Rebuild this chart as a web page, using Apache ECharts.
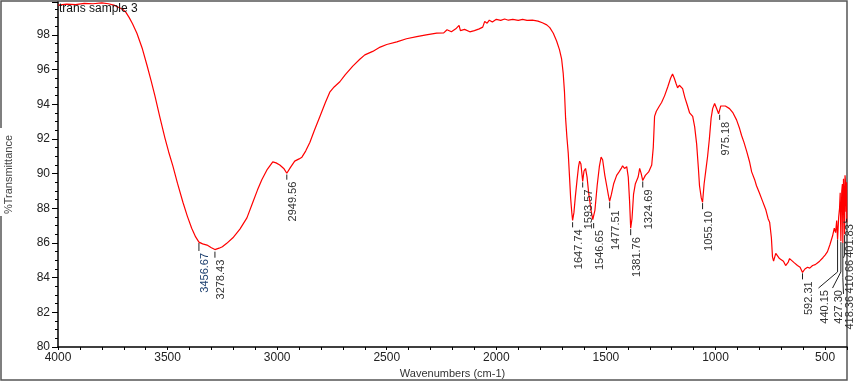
<!DOCTYPE html>
<html>
<head>
<meta charset="utf-8">
<script src="https://cdn.jsdelivr.net/npm/echarts@6/dist/echarts.min.js"></script>
<style>
  html, body { margin: 0; padding: 0; background: #fff; }
  #main { width: 858px; height: 382px; }
</style>
</head>
<body>
<div id="main"></div>
<script>
const wavenumber = [
  4000, 3960, 3920, 3880, 3840, 3800, 3770, 3745, 3725, 3705, 3690, 3675, 3660, 3640, 3615,
  3594, 3575, 3558, 3535, 3512, 3495, 3476, 3455, 3430, 3410, 3390, 3372, 3357, 3340, 3320,
  3300, 3284, 3265, 3250, 3230, 3202, 3170, 3138, 3111, 3090, 3070, 3045, 3020, 3005, 2988,
  2970, 2956, 2940, 2920, 2900, 2887, 2870, 2851, 2830, 2805, 2780, 2760, 2740, 2714, 2690,
  2655, 2623, 2600, 2564, 2530, 2500, 2454, 2410, 2363, 2320, 2272, 2240, 2225, 2205, 2185,
  2170, 2164, 2145, 2121, 2100, 2078, 2062, 2053, 2042, 2032, 2018, 2000, 1980, 1962, 1945,
  1925, 1900, 1880, 1860, 1835, 1810, 1790, 1770, 1756, 1740, 1725, 1712, 1702, 1695, 1689,
  1684, 1678, 1672, 1666, 1661, 1656, 1652, 1646, 1640, 1632, 1625, 1620, 1614, 1606, 1600,
  1593, 1586, 1578, 1568, 1560, 1556, 1550, 1540, 1530, 1522, 1515, 1505, 1495, 1488, 1483,
  1475, 1465, 1451, 1440, 1430, 1424, 1415, 1405, 1398, 1392, 1387, 1381, 1374, 1366, 1360,
  1353, 1346, 1339, 1332, 1320, 1305, 1291, 1284, 1278, 1270, 1256, 1246, 1232, 1218, 1205,
  1196, 1188, 1180, 1173, 1165, 1157, 1150, 1140, 1130, 1118, 1104, 1095, 1086, 1078, 1073,
  1065, 1059, 1052, 1044, 1036, 1028, 1020, 1013, 1004, 996, 990, 986, 981, 976, 968,
  955, 936, 920, 904, 890, 881, 870, 858, 845, 835, 820, 813, 800, 785, 770,
  760, 753, 745, 740, 735, 731, 725, 717, 708, 700, 690, 680, 676, 668, 662,
  655, 640, 626, 614, 603, 592, 580, 570, 557, 545, 535, 525, 510, 500, 489,
  478, 466, 458, 452, 447, 443, 438, 434, 431, 428, 424, 421, 419, 416, 413,
  411, 409, 406, 404, 402, 401
];
const transmittance = [
  99.72, 99.78, 99.75, 99.82, 99.8, 99.85, 99.8, 99.72, 99.6, 99.48, 99.3, 99.0, 98.65, 98.1, 97.2,
  96.25, 95.35, 94.5, 93.25, 92.05, 91.25, 90.45, 89.45, 88.35, 87.55, 86.85, 86.35, 86.05, 85.95, 85.88,
  85.72, 85.62, 85.7, 85.78, 85.98, 86.3, 86.8, 87.45, 88.35, 89.05, 89.65, 90.25, 90.68, 90.62, 90.5,
  90.3, 90.02, 90.35, 90.72, 90.85, 90.95, 91.3, 91.8, 92.5, 93.3, 94.1, 94.7, 95.0, 95.3, 95.7,
  96.2, 96.6, 96.85, 97.05, 97.3, 97.45, 97.6, 97.78, 97.9, 98.0, 98.1, 98.12, 98.3, 98.18, 98.35,
  98.55, 98.25, 98.32, 98.18, 98.25, 98.35, 98.45, 98.78, 98.68, 98.85, 98.74, 98.9, 98.84, 98.92, 98.85,
  98.9, 98.84, 98.9, 98.84, 98.85, 98.8, 98.7, 98.58, 98.42, 98.1, 97.65, 97.15, 96.6, 95.8, 94.7,
  93.2, 92.1, 91.2, 89.8, 88.6, 87.8, 87.3, 87.75, 88.6, 89.6, 90.4, 90.72, 90.55, 89.55, 90.15,
  90.3, 89.8, 88.8, 87.9, 87.35, 87.25, 87.9, 89.3, 90.4, 90.95, 90.8, 89.9, 89.2, 88.7, 88.4,
  88.8, 89.4, 89.9, 90.1, 90.3, 90.45, 90.3, 90.4, 89.8, 88.4, 86.85, 87.4, 88.8, 89.4, 89.5,
  89.8, 90.3, 90.0, 89.6, 89.9, 90.1, 90.5, 91.5, 93.3, 93.6, 93.9, 94.1, 94.5, 95.0, 95.5,
  95.75, 95.5, 95.2, 94.95, 95.1, 95.0, 94.9, 94.4, 94.0, 93.5, 93.3, 92.7, 91.7, 90.3, 89.3,
  88.6, 88.35, 89.4, 90.2, 91.0, 92.0, 93.2, 93.75, 94.05, 94.1, 93.6, 93.45, 93.45, 93.9, 94.0,
  93.9, 93.75, 93.5, 93.1, 92.6, 92.2, 91.8, 91.3, 90.7, 90.1, 89.6, 89.3, 88.9, 88.4, 87.9,
  87.4, 87.2, 86.3, 85.2, 84.95, 85.0, 85.4, 85.45, 85.1, 85.15, 84.95, 84.7, 84.65, 84.9, 85.1,
  85.05, 84.85, 84.7, 84.6, 84.3, 84.5, 84.6, 84.55, 84.7, 84.75, 84.85, 84.95, 85.15, 85.3, 85.5,
  85.9, 86.4, 86.85, 86.6, 87.3, 86.2, 87.5, 88.0, 88.9, 86.1, 89.0, 89.4, 86.0, 89.7, 88.5,
  86.5, 89.9, 89.4, 87.8, 89.5, 87.2
];

// peak annotations: tick from the curve, optional bend, then rotated text
const peakLabels = ['3456.67', '3278.43', '2949.56', '1647.74', '1593.57', '1546.65', '1477.51', '1381.76',
  '1324.69', '1055.10', '975.18', '592.31', '440.15', '427.30', '418.36', '410.66', '401.83'];
const peakWn = [3357, 3284, 2956, 1652, 1606, 1556, 1483, 1387, 1332, 1059, 981, 603, 443, 428, 419, 411, 402];
const peakT = [86.0, 85.5, 89.95, 87.2, 89.5, 87.15, 88.35, 86.8, 89.55, 88.3, 93.4, 84.25, 86.2, 86.05, 86.0, 86.45, 87.4];
const bendT = [85.54, 85.15, 89.65, 86.9, 89.2, 86.85, 88.0, 86.45, 89.2, 87.95, 93.1, 83.9, 84.33, 84.33, 84.0, 85.3, 87.2];
const labelWn = [3357, 3284, 2956, 1652, 1606, 1556, 1483, 1387, 1332, 1059, 981, 603, 530, 466, 416, 416, 416];
const labelT = [85.54, 85.15, 89.65, 86.9, 89.2, 86.85, 88.0, 86.45, 89.2, 87.95, 93.1, 83.9, 83.4, 83.4, 83.06, 85.14, 87.2];

const xLabelValues = [500, 1000, 1500, 2000, 2500, 3000, 3500, 4000];
const yLabelValues = [80, 82, 84, 86, 88, 90, 92, 94, 96, 98];

const font = '"Liberation Sans", Arial, sans-serif';

const chart = echarts.init(document.getElementById('main'));

const borderStyle = { stroke: '#555', lineWidth: 1.5 };

const option = {
  backgroundColor: '#fff',
  animation: false,
  title: {
    text: 'trans sample 3',
    left: 59,
    top: 3,
    padding: 0,
    textStyle: { fontFamily: font, fontSize: 12, fontWeight: 'normal', color: '#111' },
  },
  grid: { left: 58, right: 11, top: 2, bottom: 35, containLabel: false, outerBoundsMode: 'none' },
  xAxis: {
    type: 'value',
    inverse: true,
    min: 400,
    max: 4000,
    interval: 100,
    name: 'Wavenumbers (cm-1)',
    nameLocation: 'middle',
    nameGap: 19,
    nameTextStyle: { fontFamily: font, fontSize: 11, color: '#333' },
    axisLine: { lineStyle: { color: '#000', width: 1.5 } },
    axisTick: { length: 3, lineStyle: { color: '#000' } },
    axisLabel: {
      margin: 5,
      fontFamily: font,
      fontSize: 12,
      color: '#222',
      formatter: (v) => (xLabelValues.includes(v) ? String(v) : ''),
    },
    splitLine: { show: false },
  },
  yAxis: {
    type: 'value',
    min: 80,
    max: 99.9,
    interval: 2,
    name: '%Transmittance',
    nameLocation: 'middle',
    nameGap: 44,
    nameTextStyle: { fontFamily: font, fontSize: 11, color: '#444' },
    axisLine: { lineStyle: { color: '#000', width: 1.5 } },
    axisTick: { length: 6, lineStyle: { color: '#000' } },
    minorTick: { show: true, splitNumber: 4, length: 3, lineStyle: { color: '#000' } },
    axisLabel: {
      margin: 8,
      fontFamily: font,
      fontSize: 12,
      color: '#222',
      formatter: (v) => (yLabelValues.includes(v) ? String(v) : ''),
    },
    splitLine: { show: false },
  },
  // outer frame, left side broken where the axis name sits
  graphic: [
    { type: 'polyline', z: -1, shape: { points: [[1, 128], [1, 1], [847, 1], [847, 380], [1, 380], [1, 216]] }, style: borderStyle },
  ],
  series: [
    {
      type: 'line',
      data: wavenumber.map((w, i) => [w, transmittance[i]]),
      showSymbol: false,
      lineStyle: { color: '#ff0000', width: 1.2 },
      z: 2,
    },
    {
      type: 'custom',
      clip: false,
      silent: true,
      z: 3,
      data: peakLabels.map((t, i) => [peakWn[i], peakT[i], bendT[i], labelWn[i], labelT[i]]),
      encode: { x: 0, y: 1 },
      renderItem: (params, api) => {
        const i = params.dataIndex;
        const a = api.coord([api.value(0), api.value(1)]);
        const b = api.coord([api.value(0), api.value(2)]);
        const c = api.coord([api.value(3), api.value(4)]);
        return {
          type: 'group',
          children: [
            {
              type: 'polyline',
              shape: { points: [a, b, c] },
              style: { stroke: '#222', lineWidth: 1, fill: null },
            },
            {
              type: 'text',
              x: c[0] + 1,
              y: c[1] + 2,
              rotation: Math.PI / 2,
              style: {
                text: peakLabels[i],
                fill: i === 0 ? '#1c3f6e' : '#333',
                font: '11px ' + font,
                align: 'right',
                verticalAlign: 'top',
              },
            },
          ],
        };
      },
    },
  ],
};

chart.setOption(option);
</script>
</body>
</html>
